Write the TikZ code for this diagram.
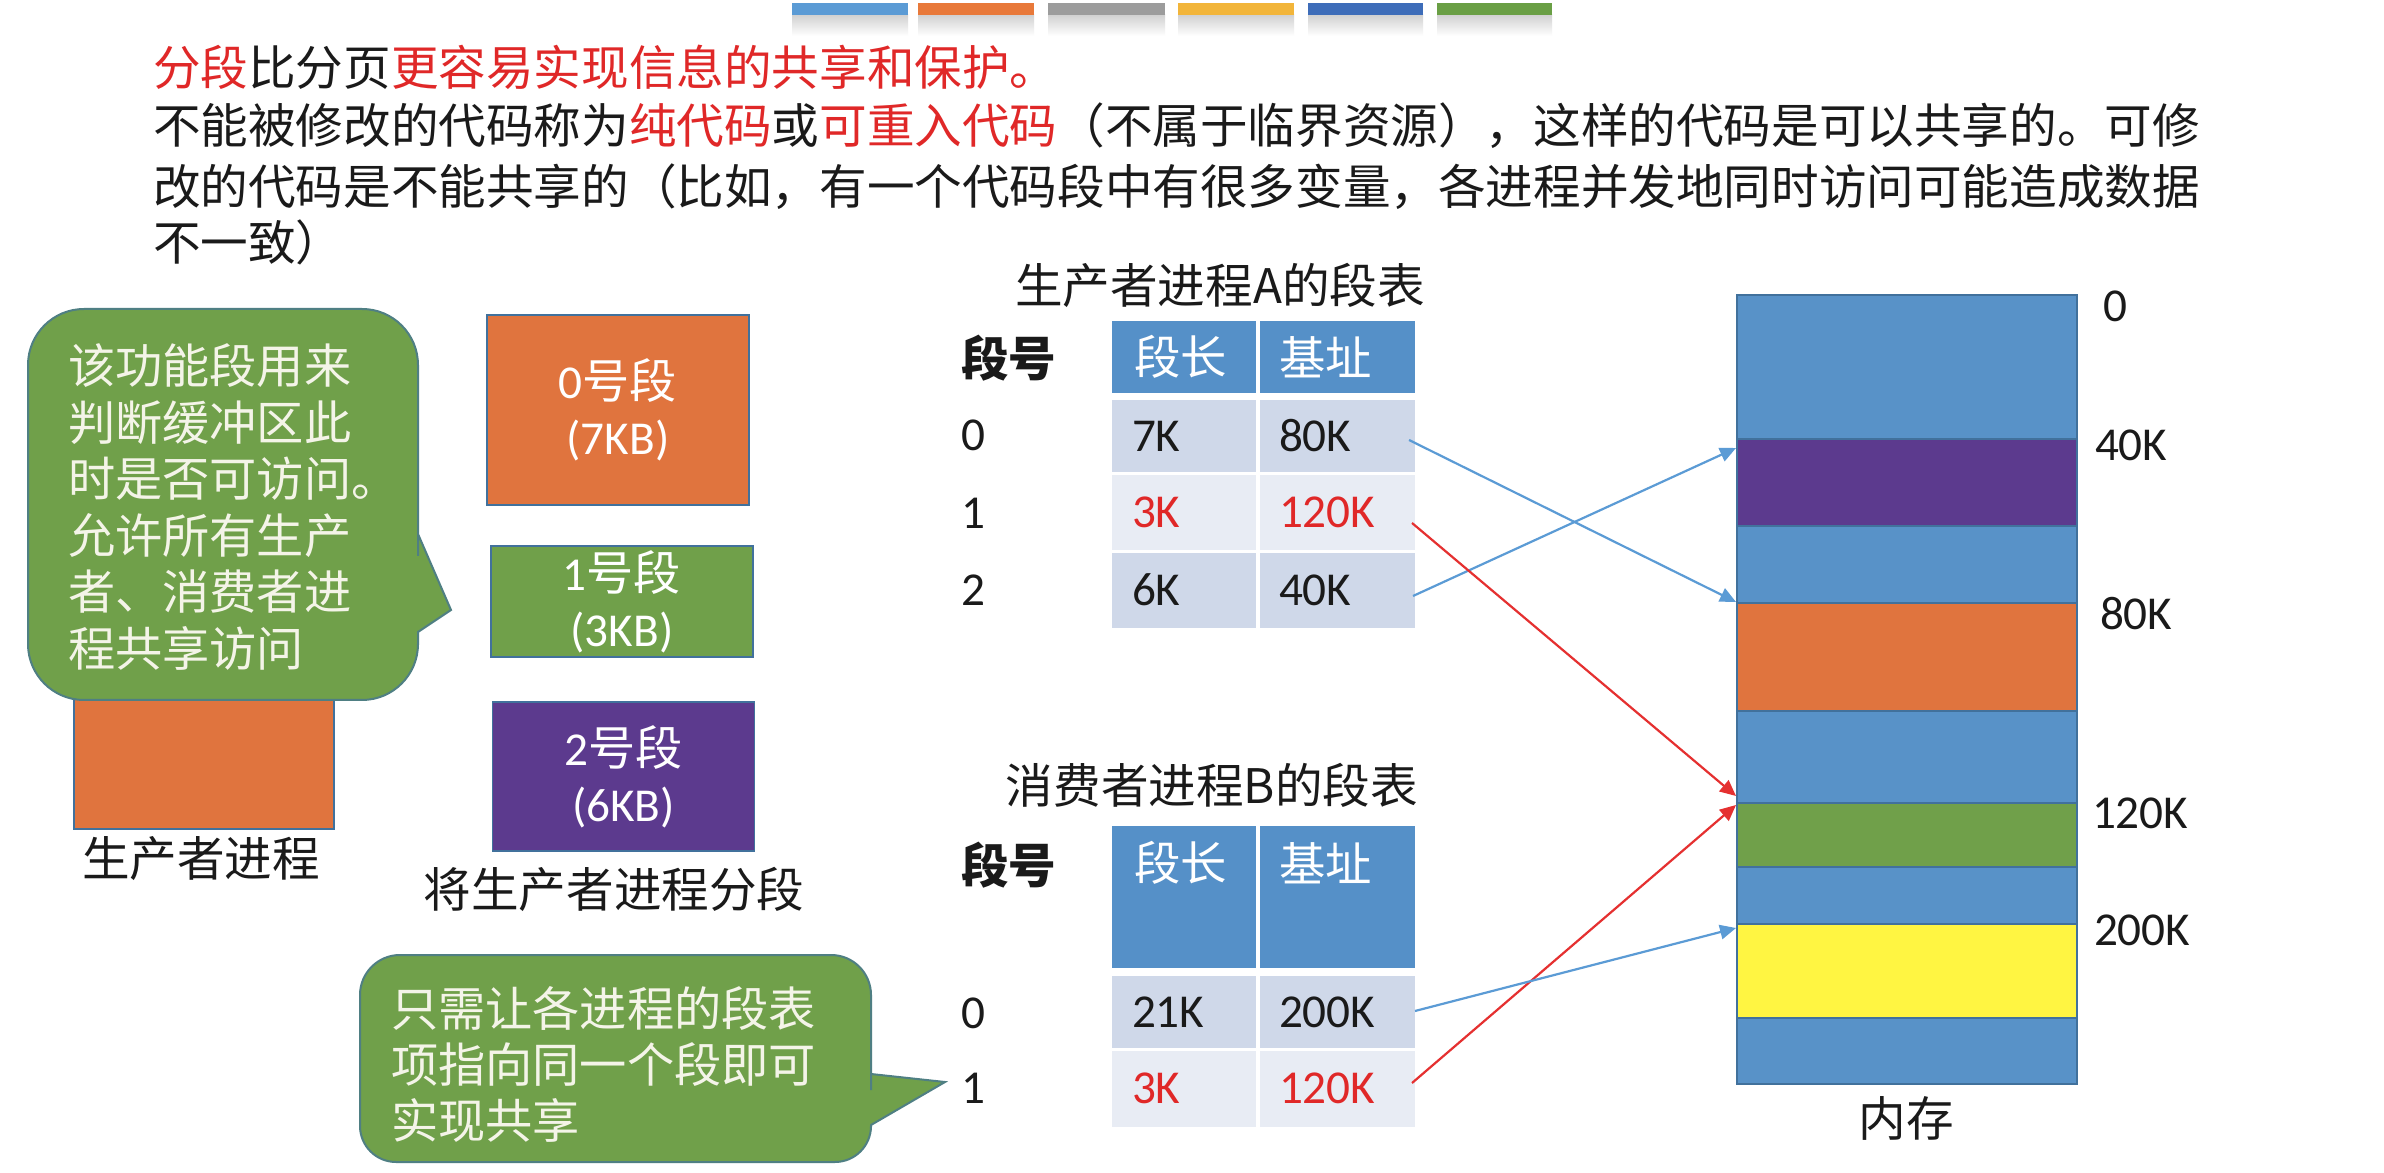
\documentclass[tikz,border=0pt]{standalone}
\usepackage{fontspec}
\setmainfont{Carlito}
\newfontfamily\cjk{Noto Sans CJK SC}
\usetikzlibrary{arrows.meta}
\definecolor{barblue}{HTML}{5B9BD5}
\definecolor{barorange}{HTML}{E8793A}
\definecolor{bargray}{HTML}{9C9C9C}
\definecolor{baryellow}{HTML}{F2B53A}
\definecolor{bardblue}{HTML}{3E6DB9}
\definecolor{bargreen}{HTML}{6A9F45}
\definecolor{segorange}{HTML}{E0743E}
\definecolor{seggreen}{HTML}{70A04A}
\definecolor{segpurple}{HTML}{5C3A8E}
\definecolor{memblue}{HTML}{5892C8}
\definecolor{memyellow}{HTML}{FFF542}
\definecolor{thead}{HTML}{5590C8}
\definecolor{rowd}{HTML}{CFD8E9}
\definecolor{rowl}{HTML}{E8ECF4}
\definecolor{tred}{HTML}{E02828}
\definecolor{arrblue}{HTML}{5B9BD5}
\definecolor{arrred}{HTML}{E53030}
\definecolor{edgec}{HTML}{41719C}
\definecolor{calloutfill}{HTML}{70A04A}
\definecolor{callouttext}{HTML}{F4F4E8}
\definecolor{maintext}{HTML}{1A1A1A}
\newcommand\rd[1]{\textcolor{tred}{#1}}
\tikzset{
  base/.style={inner sep=0pt, outer sep=0pt},
  toptext/.style={base, anchor=west, text=maintext, font=\cjk\fontsize{11.9}{14}\selectfont},
  cjklabel/.style={base, text=maintext, font=\cjk\fontsize{11.9}{14}\selectfont},
  latlabel/.style={base, anchor=west, text=maintext, font=\fontsize{11.8}{14}\selectfont},
  celltext/.style={base, anchor=west, text=maintext, font=\fontsize{11.8}{14}\selectfont},
  headtext/.style={base, anchor=west, text=white, font=\cjk\fontsize{11.6}{14}\selectfont},
  segbox/.style={base, draw=edgec, line width=0.4pt, text=white, align=center,
    font=\fontsize{11.8}{14}\selectfont, minimum width=65.5pt},
  memblock/.style={draw=edgec, line width=0.4pt},
  callout/.style={fill=calloutfill, draw=edgec!70!calloutfill, line width=0.5pt},
  callouttxt/.style={base, anchor=west, align=left, text=callouttext, font=\cjk\fontsize{11.8}{14.15}\selectfont},
  bluearrow/.style={draw=arrblue, line width=0.55pt, -{Triangle[length=4pt,width=3.6pt]}},
  redarrow/.style={draw=arrred, line width=0.55pt, -{Triangle[length=4pt,width=3.6pt]}},
}
\begin{document}
\begin{tikzpicture}[x=0.25pt,y=-0.25pt]
\useasboundingbox (0,0) rectangle (2384,1173);
\fill[white] (0,0) rectangle (2384,1173);

% top colour bars
\foreach \xa/\xb/\c in {792/908/barblue, 918/1034/barorange, 1048/1165/bargray, 1178/1294/baryellow, 1308/1423/bardblue, 1437/1552/bargreen}{
  \shade[top color=black!18, bottom color=white] (\xa,15) rectangle (\xb,36);
  \fill[\c] (\xa,3) rectangle (\xb,15);
}

% heading text
\node[toptext] (t1) at (153,67) {\rd{分段}比分页\rd{更容易实现信息的共享和保护。}};
\node[toptext] (t2) at (153,126) {不能被修改的代码称为\rd{纯代码}或\rd{可重入代码}（不属于临界资源），这样的代码是可以共享的。可修};
\node[toptext] (t3) at (153,187) {改的代码是不能共享的（比如，有一个代码段中有很多变量，各进程并发地同时访问可能造成数据};
\node[toptext] (t4) at (153,242) {不一致）};

% producer process
\fill[segorange, draw=edgec, line width=0.4pt] (74,640) rectangle (334,829);
\node[cjklabel] (prodlbl) at (201,859) {生产者进程};

% callout 1
\draw[callout] (28,450) [rounded corners=14pt] -- (28,309) -- (418,309) -- (418,500) [sharp corners] -- (418,534) -- (451,610) -- (418,632) -- (418,645) [rounded corners=14pt] -- (418,700) -- (28,700) -- cycle;
\node[callouttxt] (c1txt) at (68,507) {该功能段用来\\判断缓冲区此\\时是否可访问。\\允许所有生产\\者、消费者进\\程共享访问};

% segments
\node[segbox, fill=segorange, minimum height=47.5pt] (s0) at (618,410) {0{\cjk 号段}\\(7KB)};
\node[segbox, fill=seggreen, minimum height=27.75pt] (s1) at (622,601.5) {1{\cjk 号段}\\(3KB)};
\node[segbox, fill=segpurple, minimum height=37.25pt] (s2) at (623.5,776.5) {2{\cjk 号段}\\(6KB)};
\node[cjklabel] (seglbl) at (614,889) {将生产者进程分段};

% callout 2
\draw[callout] (360,1050) [rounded corners=10pt] -- (360,955) -- (871,955) -- (871,1050) [sharp corners] -- (871,1074) -- (945,1082) -- (871,1125) -- (871,1127) [rounded corners=9pt] -- (871,1162) -- (360,1162) -- cycle;
\node[callouttxt, font=\cjk\fontsize{11.8}{14}\selectfont] (c2txt) at (391,1064) {只需让各进程的段表\\项指向同一个段即可\\实现共享};

% table A
\node[cjklabel] (tAtitle) at (1220,285) {{\cjk 生产者进程}A{\cjk 的段表}};
\fill[thead] (1112,321) rectangle (1415,393);
\fill[rowd] (1112,400) rectangle (1415,472);
\fill[rowl] (1112,475) rectangle (1415,550);
\fill[rowd] (1112,553) rectangle (1415,628);
\draw[white, line width=1pt] (1258,321) -- (1258,628);
\node[cjklabel, anchor=west, font=\cjk\bfseries\fontsize{11.9}{14}\selectfont] (tAno) at (961,358) {段号};
\node[headtext] (tAh1) at (1134,357) {段长};
\node[headtext] (tAh2) at (1279,357) {基址};
\node[latlabel] (tAr0) at (961,435) {0};
\node[latlabel] (tAr1) at (961,513) {1};
\node[latlabel] (tAr2) at (961,590) {2};
\node[celltext] (tA0l) at (1132,436) {7K};
\node[celltext] (tA0b) at (1279,436) {80K};
\node[celltext, text=tred] (tA1l) at (1132,512) {3K};
\node[celltext, text=tred] (tA1b) at (1279,512) {120K};
\node[celltext] (tA2l) at (1132,590) {6K};
\node[celltext] (tA2b) at (1279,590) {40K};

% table B
\node[cjklabel] (tBtitle) at (1212,785) {{\cjk 消费者进程}B{\cjk 的段表}};
\fill[thead] (1112,826) rectangle (1415,968);
\fill[rowd] (1112,976) rectangle (1415,1048);
\fill[rowl] (1112,1051) rectangle (1415,1127);
\draw[white, line width=1pt] (1258,826) -- (1258,1127);
\node[cjklabel, anchor=west, font=\cjk\bfseries\fontsize{11.9}{14}\selectfont] (tBno) at (961,865) {段号};
\node[headtext] (tBh1) at (1134,863) {段长};
\node[headtext] (tBh2) at (1279,863) {基址};
\node[latlabel] (tBr0) at (961,1013) {0};
\node[latlabel] (tBr1) at (961,1088) {1};
\node[celltext] (tB0l) at (1132,1012) {21K};
\node[celltext] (tB0b) at (1279,1012) {200K};
\node[celltext, text=tred] (tB1l) at (1132,1088) {3K};
\node[celltext, text=tred] (tB1b) at (1279,1088) {120K};

% memory
\fill[memblue, memblock] (1737,295) rectangle (2077,1084);
\fill[segpurple, memblock] (1737,439) rectangle (2077,526);
\fill[segorange, memblock] (1737,603) rectangle (2077,711);
\fill[seggreen, memblock] (1737,803) rectangle (2077,867);
\fill[memyellow, memblock] (1737,924) rectangle (2077,1018);
\node[latlabel] (m0lbl) at (2103,306) {0};
\node[latlabel] (m40lbl) at (2095,445) {40K};
\node[latlabel] (m80lbl) at (2100,614) {80K};
\node[latlabel] (m120lbl) at (2092,813) {120K};
\node[latlabel] (m200lbl) at (2094,930) {200K};
\node[cjklabel] (memlbl) at (1906,1118) {内存};

% connector end points
\coordinate (pA0) at (1409,440);
\coordinate (pA1) at (1412,523);
\coordinate (pA2) at (1413,596);
\coordinate (pB0) at (1415,1011);
\coordinate (pB1) at (1412,1083);
\coordinate (m80) at (1736,602);
\coordinate (m40) at (1736,448);
\coordinate (m120a) at (1736,796);
\coordinate (m120b) at (1736,805);
\coordinate (m200) at (1736,928);

\draw[bluearrow] (pA0) -- (m80);
\draw[bluearrow] (pA2) -- (m40);
\draw[redarrow] (pA1) -- (m120a);
\draw[redarrow] (pB1) -- (m120b);
\draw[bluearrow] (pB0) -- (m200);
\end{tikzpicture}
\end{document}
